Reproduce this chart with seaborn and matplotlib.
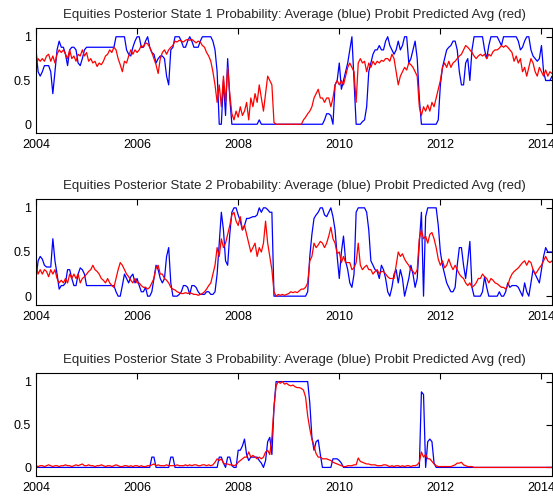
import numpy as np
import pandas as pd
import matplotlib
matplotlib.use("Agg")
import matplotlib.pyplot as plt
import seaborn as sns

# ---------------- data (semi-monthly samples, Jan 2004 onward) ----------------
b1 = [0.85,0.6,0.55,0.6,0.67,0.67,0.67,0.6,0.35,0.6,0.85,0.95,
      0.88,0.88,0.8,0.67,0.85,0.88,0.88,0.85,0.7,0.67,0.75,0.85,
      0.88,0.88,0.88,0.88,0.88,0.88,0.88,0.88,0.88,0.88,0.88,0.88,
      0.88,0.88,1.0,1.0,1.0,1.0,1.0,0.85,0.8,0.78,0.88,0.95,
      1.0,1.0,0.88,0.88,0.95,1.0,0.88,0.82,0.8,0.7,0.75,0.78,
      0.78,0.75,0.55,0.45,0.85,0.88,1.0,1.0,1.0,0.95,0.88,0.88,
      0.95,1.0,0.95,0.88,0.88,0.88,0.95,1.0,1.0,1.0,1.0,1.0,
      0.95,0.85,0.6,0.0,0.0,0.5,0.1,0.75,0.3,0.0,0.0,0.0,
      0,0,0,0,0,0,0,0,0,0,0.05,0,
      0,0,0,0,0,0,0,0,0,0,0,0,
      0,0,0,0,0,0,0,0,0,0,0,0,
      0,0,0,0,0,0.05,0.12,0.12,0.1,0.0,0.45,0.5,
      0.7,0.4,0.5,0.6,0.7,0.85,1.0,0.5,0.0,0.0,0.0,0.03,
      0.05,0.2,0.6,0.7,0.8,0.85,0.85,0.9,0.85,0.85,0.95,1.0,
      0.9,0.85,0.8,0.85,0.95,0.85,0.9,1.0,1.0,0.7,0.75,0.85,
      0.95,0.75,0.3,0.0,0,0,0,0,0,0,0,0.05,
      0.45,0.65,0.75,0.85,0.88,0.9,0.95,0.95,0.85,0.6,0.45,0.45,
      0.7,0.75,0.5,0.85,1.0,1.0,1.0,1.0,1.0,0.85,0.75,0.9,
      1.0,1.0,1.0,1.0,0.95,0.9,1.0,1.0,1.0,1.0,1.0,1.0,
      1.0,0.95,0.85,0.88,0.95,1.0,1.0,0.85,0.78,0.75,0.72,0.75,
      0.9,0.6,0.5,0.5,0.5,0.55]

r1 = [0.65,0.75,0.72,0.75,0.72,0.78,0.8,0.72,0.78,0.7,0.8,0.85,
      0.82,0.85,0.8,0.75,0.85,0.75,0.78,0.72,0.8,0.78,0.85,0.78,
      0.82,0.72,0.75,0.7,0.72,0.66,0.7,0.68,0.72,0.78,0.8,0.85,
      0.82,0.88,0.85,0.75,0.68,0.6,0.72,0.7,0.78,0.85,0.8,0.85,
      0.82,0.85,0.9,0.88,0.93,0.92,0.88,0.82,0.75,0.68,0.58,0.75,
      0.82,0.85,0.8,0.85,0.88,0.9,0.95,0.94,0.96,0.95,0.94,0.96,
      0.97,0.96,0.97,0.95,0.93,0.95,0.94,0.9,0.88,0.82,0.78,0.72,
      0.6,0.45,0.25,0.45,0.2,0.55,0.25,0.65,0.35,0.12,0.05,0.15,
      0.08,0.2,0.1,0.15,0.25,0.05,0.3,0.2,0.35,0.25,0.45,0.3,
      0.15,0.35,0.55,0.5,0.45,0.02,0,0,0,0,0,0,
      0,0,0,0,0,0,0,0.05,0.08,0.12,0.15,0.2,
      0.3,0.35,0.4,0.3,0.3,0.25,0.3,0.3,0.2,0.3,0.45,0.5,
      0.45,0.5,0.45,0.55,0.65,0.7,0.65,0.6,0.25,0.7,0.75,0.7,
      0.72,0.6,0.7,0.65,0.72,0.68,0.72,0.7,0.73,0.72,0.75,0.75,
      0.72,0.8,0.75,0.6,0.45,0.55,0.6,0.65,0.62,0.7,0.68,0.65,
      0.6,0.55,0.2,0.1,0.2,0.15,0.22,0.15,0.25,0.2,0.3,0.4,
      0.5,0.65,0.7,0.65,0.72,0.65,0.7,0.72,0.75,0.78,0.8,0.85,
      0.9,0.88,0.85,0.82,0.78,0.75,0.78,0.8,0.78,0.8,0.75,0.8,
      0.78,0.83,0.85,0.85,0.87,0.9,0.88,0.9,0.88,0.85,0.82,0.72,
      0.78,0.7,0.75,0.6,0.65,0.55,0.65,0.75,0.7,0.6,0.55,0.65,
      0.6,0.55,0.62,0.55,0.6,0.58]

b2 = [0.2,0.4,0.45,0.42,0.35,0.33,0.33,0.33,0.65,0.4,0.25,0.08,
      0.12,0.12,0.15,0.3,0.3,0.2,0.12,0.12,0.25,0.32,0.3,0.25,
      0.12,0.12,0.12,0.12,0.12,0.12,0.12,0.12,0.12,0.12,0.12,0.12,
      0.12,0.12,0.05,0.0,0.0,0.12,0.25,0.2,0.15,0.22,0.25,0.15,
      0.2,0.12,0.05,0.05,0.1,0.0,0.0,0.05,0.2,0.35,0.3,0.2,
      0.15,0.2,0.45,0.55,0.15,0.0,0.0,0.0,0.02,0.05,0.12,0.12,
      0.1,0.02,0.12,0.12,0.1,0.05,0.02,0.02,0.02,0.05,0.05,0.02,
      0.02,0.05,0.25,0.6,0.95,0.75,0.4,0.35,0.7,0.95,1.0,1.0,
      0.92,0.85,0.75,0.8,0.88,0.88,0.89,0.9,0.9,0.92,1.0,0.95,
      1.0,1.0,0.98,0.95,0.95,0.0,0,0,0,0,0,0,
      0,0,0,0,0,0,0,0,0,0.05,0.45,0.7,
      0.88,0.92,0.95,1.0,1.0,0.92,0.9,0.95,1.0,0.9,0.75,0.45,
      0.2,0.5,0.68,0.4,0.3,0.15,0.1,0.25,0.95,1.0,1.0,1.0,
      1.0,0.95,0.75,0.4,0.35,0.3,0.28,0.2,0.35,0.3,0.2,0.05,
      0.0,0.1,0.25,0.3,0.15,0.3,0.2,0.0,0.1,0.2,0.35,0.25,
      0.1,0.2,0.6,0.95,0.0,0.9,1.0,1.0,1.0,1.0,1.0,0.8,
      0.5,0.35,0.25,0.15,0.1,0.05,0.05,0.1,0.35,0.55,0.55,0.35,
      0.2,0.4,0.62,0.1,0.0,0.0,0.0,0.0,0.05,0.22,0.1,0.0,
      0,0,0,0,0.05,0,0,0.05,0.15,0.1,0.12,0.12,
      0.12,0.1,0.05,0.0,0.15,0.05,0.0,0.15,0.3,0.25,0.2,0.15,
      0.3,0.45,0.55,0.5,0.5,0.5]

r2 = [0.35,0.25,0.3,0.25,0.3,0.28,0.22,0.3,0.25,0.3,0.2,0.15,
      0.18,0.15,0.2,0.15,0.25,0.2,0.25,0.2,0.25,0.15,0.2,0.22,
      0.25,0.28,0.3,0.35,0.3,0.28,0.25,0.2,0.18,0.15,0.2,0.15,
      0.12,0.1,0.2,0.3,0.38,0.35,0.3,0.25,0.22,0.18,0.15,0.2,
      0.15,0.15,0.12,0.1,0.1,0.08,0.1,0.15,0.2,0.32,0.35,0.25,
      0.25,0.2,0.18,0.15,0.1,0.08,0.07,0.05,0.04,0.03,0.03,0.04,
      0.03,0.04,0.03,0.02,0.02,0.01,0.02,0.03,0.05,0.08,0.12,0.15,
      0.25,0.35,0.55,0.45,0.65,0.55,0.6,0.7,0.8,0.92,0.95,0.85,
      0.8,0.9,0.75,0.8,0.7,0.6,0.5,0.55,0.6,0.45,0.55,0.5,
      0.6,0.85,0.6,0.45,0.3,0.05,0.0,0.02,0.01,0.02,0.01,0.02,
      0.03,0.05,0.04,0.05,0.04,0.06,0.08,0.08,0.1,0.15,0.4,0.45,
      0.6,0.55,0.58,0.62,0.6,0.55,0.6,0.68,0.78,0.65,0.6,0.48,
      0.5,0.38,0.45,0.38,0.38,0.38,0.3,0.32,0.38,0.6,0.35,0.3,
      0.33,0.35,0.3,0.3,0.25,0.28,0.3,0.25,0.28,0.28,0.25,0.22,
      0.2,0.2,0.2,0.35,0.5,0.45,0.48,0.42,0.38,0.35,0.3,0.28,
      0.25,0.3,0.65,0.75,0.65,0.68,0.6,0.7,0.72,0.65,0.55,0.42,
      0.35,0.4,0.32,0.35,0.42,0.35,0.3,0.35,0.3,0.25,0.22,0.2,
      0.15,0.12,0.15,0.1,0.12,0.15,0.2,0.2,0.25,0.22,0.2,0.15,
      0.2,0.18,0.15,0.14,0.12,0.1,0.1,0.08,0.12,0.2,0.25,0.28,
      0.3,0.32,0.35,0.38,0.4,0.35,0.4,0.38,0.3,0.25,0.28,0.32,
      0.35,0.4,0.45,0.4,0.38,0.4]

b3 = [0]*48 + \
     [0,0,0,0,0,0,0,0.12,0.12,0,0,0,
      0,0,0,0,0.12,0.12,0,0,0,0,0,0,
      0,0,0,0,0,0,0,0,0,0,0,0,
      0,0,0,0.12,0.12,0.05,0,0.12,0.12,0.02,0,0,
      0.2,0.2,0.25,0.33,0.15,0.08,0.12,0.12,0.12,0.12,0.08,0.05,
      0.0,0.08,0.3,0.35,0.15,0.7,1.0,1.0,1.0,1.0,1.0,1.0,
      1.0,1.0,1.0,1.0,1.0,1.0,1.0,1.0,1.0,1.0,0.75,0.35,
      0.2,0.3,0.32,0.15,0,0,0,0,0,0.1,0.1,0.1,
      0.08,0.05,0,0,0,0,0,0,0,0,0,0,
      0,0,0,0,0,0,0,0,0,0,0,0,
      0,0,0,0,0,0,0,0,0,0,0,0,
      0,0,0,0.88,0.85,0.0,0.3,0.33,0.3,0.05,0,0] + [0]*54

r3 = [0.02,0.01,0.02,0.02,0.01,0.02,0.03,0.02,0.01,0.02,0.02,0.01,
      0.02,0.02,0.03,0.02,0.02,0.01,0.02,0.03,0.02,0.03,0.04,0.02,
      0.02,0.03,0.02,0.02,0.01,0.02,0.02,0.03,0.02,0.01,0.02,0.02,
      0.01,0.02,0.03,0.02,0.01,0.01,0.02,0.02,0.01,0.02,0.01,0.02,
      0.02,0.01,0.02,0.01,0.01,0.02,0.02,0.03,0.04,0.02,0.03,0.02,
      0.02,0.02,0.03,0.02,0.02,0.02,0.02,0.03,0.02,0.02,0.02,0.03,
      0.02,0.03,0.02,0.03,0.03,0.02,0.02,0.03,0.03,0.02,0.03,0.02,
      0.03,0.06,0.1,0.08,0.1,0.05,0.04,0.04,0.03,0.03,0.02,0.03,
      0.06,0.08,0.1,0.12,0.12,0.18,0.12,0.14,0.12,0.1,0.12,0.1,
      0.12,0.18,0.2,0.15,0.35,0.7,0.95,1.0,0.98,1.0,0.97,0.98,
      0.96,0.95,0.96,0.94,0.93,0.93,0.92,0.9,0.82,0.6,0.45,0.33,
      0.25,0.16,0.12,0.12,0.1,0.1,0.1,0.09,0.08,0.06,0.05,0.04,
      0.03,0.02,0.01,0.01,0.02,0.02,0.02,0.03,0.03,0.11,0.07,0.06,
      0.05,0.04,0.04,0.03,0.03,0.03,0.02,0.02,0.02,0.03,0.03,0.02,
      0.01,0.02,0.01,0.02,0.02,0.01,0.02,0.01,0.02,0.02,0.01,0.02,
      0.02,0.03,0.06,0.18,0.12,0.15,0.1,0.1,0.07,0.04,0.02,0.01,
      0.01,0.01,0.01,0.01,0.01,0.01,0.02,0.03,0.05,0.05,0.06,0.03,
      0.02,0.01,0.01,0.01,0.0,0.0,0.0,0.0,0.0,0.0,0.0,0.0] + [0.0]*30

titles = ["Equities Posterior State 1 Probability: Average (blue) Probit Predicted Avg (red)",
          "Equities Posterior State 2 Probability: Average (blue) Probit Predicted Avg (red)",
          "Equities Posterior State 3 Probability: Average (blue) Probit Predicted Avg (red)"]
xtick_years = [2004, 2006, 2008, 2010, 2012, 2014]
ytick_vals = [0, 0.5, 1]
ytick_labels = ["0", "0.5", "1"]

# ---------------- plotting ----------------
sns.set_style("white")
plt.rcParams['font.family'] = ['Liberation Sans', 'DejaVu Sans']

n = len(b1)
t = 2004 + np.arange(n) / 24.0

fig = plt.figure(figsize=(5.53, 4.98), dpi=100)
W, H = 553.0, 498.0
boxes = [(28, 133), (199, 305), (373, 476)]
series = [(b1, r1), (b2, r2), (b3, r3)]

for (top, bot), (bv, rv), ttl in zip(boxes, series, titles):
    ax = fig.add_axes([36 / W, 1 - bot / H, (552 - 36) / W, (bot - top) / H])
    df = pd.DataFrame({"t": t, "avg": bv, "probit": rv})
    sns.lineplot(data=df, x="t", y="avg", color=(0, 0, 1), lw=0.9,
                 estimator=None, ax=ax)
    sns.lineplot(data=df, x="t", y="probit", color=(1, 0, 0), lw=0.9,
                 estimator=None, ax=ax)
    ax.set_xlim(t[0], t[-1])
    ax.set_ylim(-0.1, 1.1)
    ax.set_xticks(xtick_years)
    ax.set_xticklabels([str(y) for y in xtick_years])
    ax.set_yticks(ytick_vals)
    ax.set_yticklabels(ytick_labels)
    ax.set_xlabel("")
    ax.set_ylabel("")
    ax.tick_params(direction="in", top=True, right=True, length=4,
                   width=0.8, labelsize=9, colors="black")
    ax.tick_params(axis="x", pad=4.5)
    ax.tick_params(axis="y", pad=3.5)
    for sp in ax.spines.values():
        sp.set_visible(True)
        sp.set_color("black")
        sp.set_linewidth(0.8)
    ax.set_title(ttl, fontsize=9.5, pad=7.5)

fig.savefig("out.png", dpi=100)
